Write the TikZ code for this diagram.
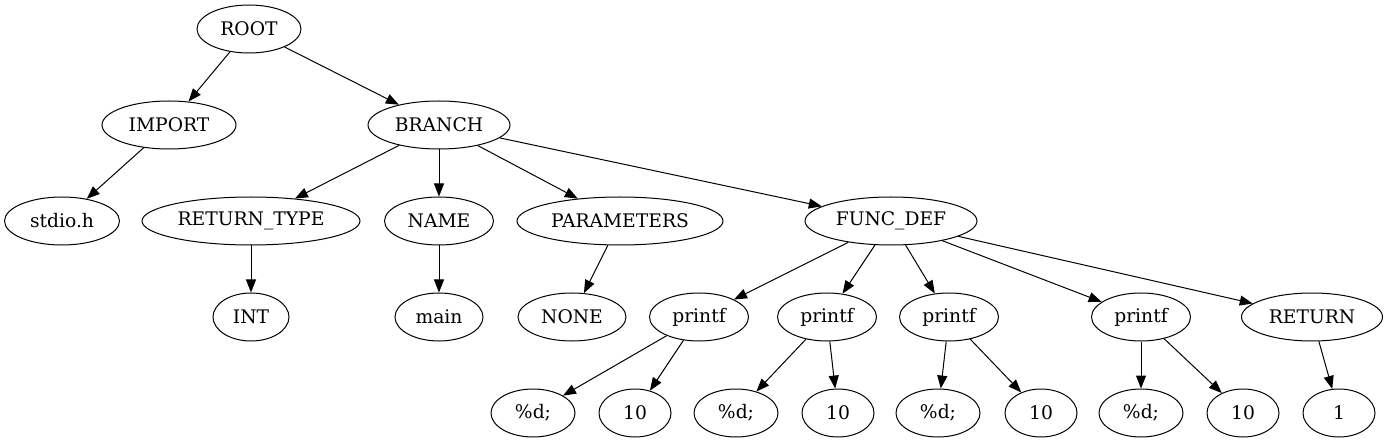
\documentclass[tikz,border=0pt]{standalone}
\usepackage{fontspec}
\setmainfont{DejaVu Serif}
\usetikzlibrary{positioning,arrows.meta,shapes.geometric}
\tikzset{
  tnode/.style={draw, ellipse, line width=1pt, inner sep=0pt, minimum height=48pt, font=\fontsize{18.7}{22}\selectfont},
  arrow/.style={-{Triangle[length=13pt,width=10pt]}, line width=1pt}
}
\begin{document}
\begin{tikzpicture}[x=1pt, y=-1pt]
        \useasboundingbox (0,0) rectangle (1388,443);
        % levels
        \node[tnode, minimum width=104pt] (root) at (249,29) {ROOT};
        \node[tnode, minimum width=134pt] (imp) at (169,125) {IMPORT};
        \node[tnode, minimum width=142pt] (br) at (439,125) {BRANCH};
        \node[tnode, minimum width=115pt] (stdio) at (62,221) {stdio.h};
        \node[tnode, minimum width=218pt] (rtype) at (251,221) {RETURN\_TYPE};
        \node[tnode, minimum width=109pt] (name) at (439,221) {NAME};
        \node[tnode, minimum width=206pt] (params) at (620,221) {PARAMETERS};
        \node[tnode, minimum width=172pt] (fdef) at (891,221) {FUNC\_DEF};
        \node[tnode, minimum width=76pt] (int) at (251,317) {INT};
        \node[tnode, minimum width=88pt] (main) at (439,317) {main};
        \node[tnode, minimum width=108pt] (none) at (572,317) {NONE};
        \node[tnode, minimum width=99pt] (pa) at (699,317) {printf};
        \node[tnode, minimum width=99pt] (pb) at (827,317) {printf};
        \node[tnode, minimum width=99pt] (pc) at (949,317) {printf};
        \node[tnode, minimum width=99pt] (pd) at (1141,317) {printf};
        \node[tnode, minimum width=141pt] (ret) at (1312,317) {RETURN};
        \node[tnode, minimum width=84pt] (fa) at (533,413) {\%d;};
        \node[tnode, minimum width=72pt] (va) at (635,413) {10};
        \node[tnode, minimum width=84pt] (fb) at (736,413) {\%d;};
        \node[tnode, minimum width=72pt] (vb) at (838,413) {10};
        \node[tnode, minimum width=84pt] (fc) at (938,413) {\%d;};
        \node[tnode, minimum width=72pt] (vc) at (1041,413) {10};
        \node[tnode, minimum width=84pt] (fd) at (1141,413) {\%d;};
        \node[tnode, minimum width=72pt] (vd) at (1243,413) {10};
        \node[tnode, minimum width=72pt] (one) at (1339,413) {1};
        \foreach \a/\b in {root/imp,root/br,imp/stdio,br/rtype,br/name,br/params,br/fdef,rtype/int,name/main,params/none,fdef/pa,fdef/pb,fdef/pc,fdef/pd,fdef/ret,pa/fa,pa/va,pb/fb,pb/vb,pc/fc,pc/vc,pd/fd,pd/vd,ret/one}{\draw[arrow] (\a) -- (\b);}
      \end{tikzpicture}
\end{document}
